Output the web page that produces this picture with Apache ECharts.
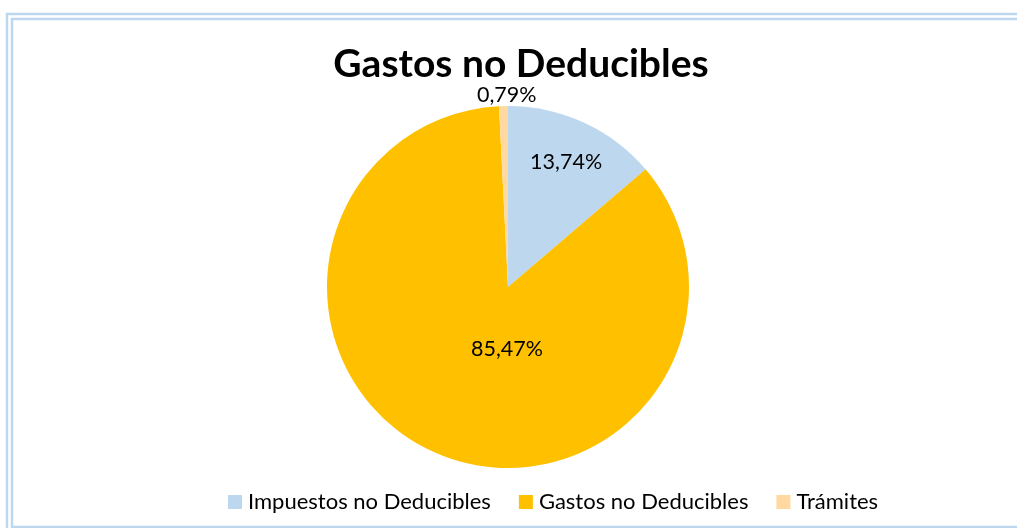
<!DOCTYPE html>
<html><head><meta charset="utf-8">
<script src="https://cdn.jsdelivr.net/npm/echarts@6/dist/echarts.min.js"></script>
<style>html,body{margin:0;padding:0;background:#fff;}#c{width:1017px;height:528px;}</style>
</head><body><div id="c"></div>
<script>
const categories = ["Impuestos no Deducibles", "Gastos no Deducibles", "Trámites"];
const values = [13.74, 85.47, 0.79];
const colors = ["#BDD7EE", "#FFC000", "#FFD9A0"];
const labelOffsets = [[19, -40], [36, -24], [1, -98]];

const chart = echarts.init(document.getElementById('c'), null, {renderer: 'canvas'});
const FONT = 'Lato, "Open Sans", sans-serif';
const data = categories.map((n, i) => ({
  name: n, value: values[i], itemStyle: {color: colors[i]},
  label: {position: 'inside', offset: labelOffsets[i]}
}));
chart.setOption({
  animation: false,
  backgroundColor: '#fff',
  title: {
    text: 'Gastos no Deducibles', left: 516, textAlign: 'center', top: 40,
    textStyle: {fontFamily: FONT, fontWeight: 'bold', fontSize: 39, color: '#000'}
  },
  legend: {
    left: 228, top: 491, padding: 0, itemWidth: 14, itemHeight: 14, itemGap: 28, icon: 'rect',
    textStyle: {fontFamily: FONT, fontSize: 22, color: '#000', padding: [0, 0, 0, 1]},
    data: categories
  },
  graphic: [
    {type: 'rect', shape: {x: 7, y: 14, width: 1100, height: 600}, style: {fill: 'none', stroke: '#BDD7EE', lineWidth: 2.5}, silent: true},
    {type: 'rect', shape: {x: 12, y: 19, width: 1100, height: 508}, style: {fill: 'none', stroke: '#BDD7EE', lineWidth: 2.5}, silent: true}
  ],
  series: [{
    type: 'pie', center: [508, 287], radius: 181, startAngle: 90, clockwise: true,
    avoidLabelOverlap: false,
    label: {show: true, fontFamily: FONT, fontSize: 21.5, color: '#000',
      formatter: p => p.value.toFixed(2).replace('.', ',') + '%'},
    labelLine: {show: false},
    itemStyle: {borderWidth: 0},
    data: data
  }]
});
</script></body></html>
